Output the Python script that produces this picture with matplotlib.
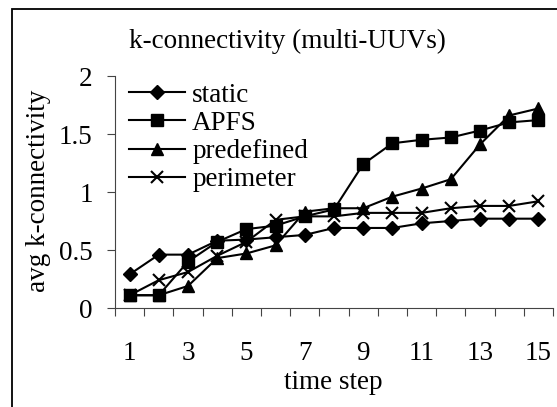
import matplotlib
matplotlib.use('Agg')
import matplotlib.pyplot as plt
from matplotlib.patches import Rectangle
from matplotlib.ticker import FixedLocator, FixedFormatter

plt.rcParams['font.family'] = ['Liberation Serif', 'DejaVu Serif']

# data
steps = list(range(1, 16))
static = [0.29, 0.46, 0.46, 0.58, 0.59, 0.61, 0.63, 0.69, 0.69, 0.69, 0.73, 0.75, 0.77, 0.77, 0.77]
apfs = [0.11, 0.11, 0.40, 0.57, 0.68, 0.71, 0.79, 0.85, 1.24, 1.42, 1.45, 1.47, 1.53, 1.60, 1.62]
predefined = [0.11, 0.11, 0.19, 0.43, 0.47, 0.54, 0.83, 0.86, 0.86, 0.96, 1.03, 1.11, 1.41, 1.66, 1.72]
perimeter = [0.11, 0.24, 0.31, 0.45, 0.57, 0.76, 0.79, 0.79, 0.82, 0.82, 0.82, 0.86, 0.88, 0.88, 0.92]
xlabels = [str(s) if s % 2 == 1 else '' for s in steps]
yticks = [0, 0.5, 1, 1.5, 2]
ylabels = ['0', '0.5', '1', '1.5', '2']

W, H = 557, 407
FS = 19.5
fig = plt.figure(figsize=(W / 100, H / 100), dpi=100)
ax = fig.add_axes([115 / W, 1 - 308 / H, 438 / W, 232 / H])

# outer frame of the chart
fig.patches.append(Rectangle((12 / W, -0.05), 1.1, 1 - 9 / H + 0.05,
                             transform=fig.transFigure, fill=False,
                             edgecolor='black', linewidth=1.3))

lw = 1.5
ax.plot(steps, static, color='black', lw=lw, marker='D', ms=7, label='static')
ax.plot(steps, apfs, color='black', lw=lw, marker='s', ms=8, label='APFS')
ax.plot(steps, predefined, color='black', lw=lw, marker='^', ms=9, label='predefined')
ax.plot(steps, perimeter, color='black', lw=lw, marker='x', ms=9, mew=1.5, label='perimeter')

ax.set_xlim(0.5, 15.5)
ax.set_ylim(0, 2)
ax.spines['top'].set_visible(False)
ax.spines['right'].set_visible(False)
for side in ('left', 'bottom'):
    ax.spines[side].set_linewidth(0.8)
    ax.spines[side].set_color('#444444')

# category-style x axis: ticks between categories, labels at centers
ax.xaxis.set_major_locator(FixedLocator([i + 0.5 for i in range(0, 16)]))
ax.xaxis.set_major_formatter(FixedFormatter([''] * 16))
ax.xaxis.set_minor_locator(FixedLocator(steps))
ax.xaxis.set_minor_formatter(FixedFormatter(xlabels))
ax.tick_params(axis='x', which='major', direction='out', length=6, width=0.8, color='#444444')
ax.tick_params(axis='x', which='minor', length=0, pad=24, labelsize=FS)

ax.set_yticks(yticks)
ax.set_yticklabels(ylabels)
ax.tick_params(axis='y', direction='out', length=6, width=0.8, pad=10, labelsize=FS, color='#444444')

ax.legend(loc='upper left', bbox_to_anchor=(0.0, 1.03), frameon=False, fontsize=FS,
          handlelength=2.1, handletextpad=0.25, labelspacing=0.12, borderaxespad=0.3,
          borderpad=0.2)

fig.text(287 / W, 1 - 48 / H, 'k-connectivity (multi-UUVs)', ha='center', va='baseline', fontsize=FS)
fig.text(333 / W, 1 - 389 / H, 'time step', ha='center', va='baseline', fontsize=FS)
fig.text(39 / W, 1 - 191 / H, 'avg k-connectivity', ha='center', va='center', rotation=90, fontsize=FS)

fig.savefig('out.png', dpi=100)
